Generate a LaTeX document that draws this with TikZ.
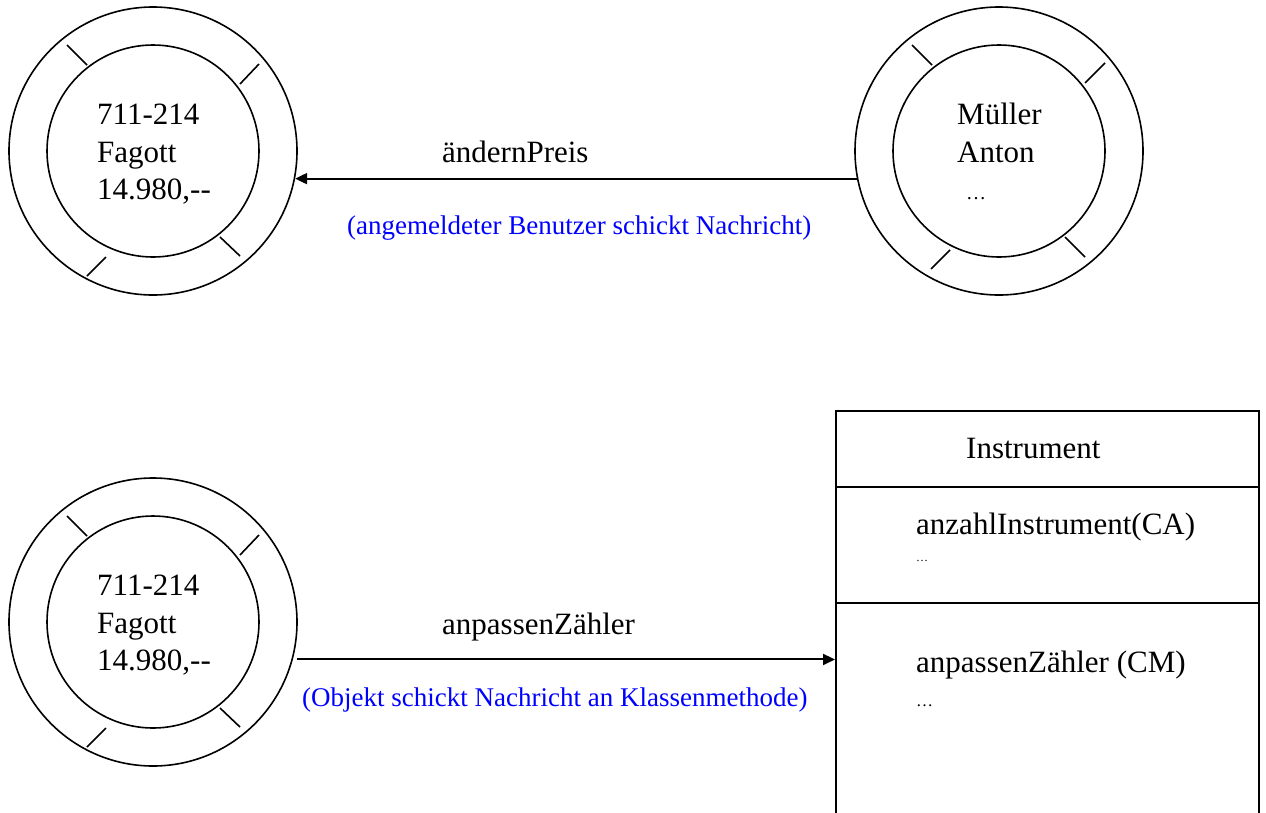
\documentclass[tikz,border=0pt]{standalone}
\usepackage{fontspec}
\setmainfont{Liberation Serif}
\usetikzlibrary{arrows.meta,calc}
\begin{document}
\begin{tikzpicture}[x=1pt,y=-1pt,
  ring/.style={circle,draw,line width=1.6pt,inner sep=0pt},
  outerring/.style={ring,minimum size=288pt},
  innerring/.style={ring,minimum size=212pt},
  tick/.style={line width=1.6pt},
  body/.style={font=\fontsize{31}{37.5}\selectfont,inner sep=0pt,align=left,anchor=north west},
  txt/.style={font=\fontsize{31}{37.5}\selectfont,inner sep=0pt,anchor=base west},
  note/.style={font=\fontsize{27}{32}\selectfont,text=blue,inner sep=0pt,anchor=base west},
  msg/.style={line width=2pt,-{Triangle[length=12pt,width=11pt]}},
]
\useasboundingbox (0,0) rectangle (1266,812);
\clip (0,0) rectangle (1266,812);

% object: Fagott (top)
\node[outerring] (o1) at (153,151) {};
\node[innerring] (i1) at (153,151) {};
\draw[tick] ($(o1)+(-86,-106)$) -- ($(o1)+(-66,-86)$);
\draw[tick] ($(o1)+(106,-87)$) -- ($(o1)+(87,-67)$);
\draw[tick] ($(o1)+(67,86)$) -- ($(o1)+(87,105)$);
\draw[tick] ($(o1)+(-66,125)$) -- ($(o1)+(-47,106)$);
\node[body] (t1) at (97,104) {711-214\\Fagott\\14.980,-{}-};

% object: Mueller
\node[outerring] (o2) at (999,151) {};
\node[innerring] (i2) at (999,151) {};
\draw[tick] ($(o2)+(-87,-106)$) -- ($(o2)+(-67,-86)$);
\draw[tick] ($(o2)+(106,-88)$) -- ($(o2)+(86,-68)$);
\draw[tick] ($(o2)+(66,86)$) -- ($(o2)+(86,106)$);
\draw[tick] ($(o2)+(-49,99)$) -- ($(o2)+(-68,118)$);
\node[body] (t2) at (957,103) {Müller\\Anton\\{\fontsize{20}{37.5}\selectfont\hspace{9pt}…}};

% message from user to object
\draw[msg] (o2.191.6) -- (o1.-11.6);
\node[txt] (m1) at (442,162) {ändernPreis};
\node[note] (n1) at (347,234) {(angemeldeter Benutzer schickt Nachricht)};

% object: Fagott (bottom)
\node[outerring] (o3) at (153,622) {};
\node[innerring] (i3) at (153,622) {};
\draw[tick] ($(o3)+(-86,-106)$) -- ($(o3)+(-66,-86)$);
\draw[tick] ($(o3)+(106,-87)$) -- ($(o3)+(87,-67)$);
\draw[tick] ($(o3)+(67,86)$) -- ($(o3)+(87,105)$);
\draw[tick] ($(o3)+(-66,125)$) -- ($(o3)+(-47,106)$);
\node[body] (t3) at (97,575) {711-214\\Fagott\\14.980,-{}-};

% class Instrument
\node[draw,line width=1.6pt,minimum width=423pt,minimum height=440pt,inner sep=0pt,anchor=north west] (cls) at (835,410) {};
\draw[tick] (835,487) -- (1258,487);
\draw[tick] (835,603) -- (1258,603);
\node[txt] (cname) at (966,458) {Instrument};
\node[txt] (cattr) at (916,534) {anzahlInstrument(CA)};
\node[txt,font=\fontsize{12}{14}\selectfont] (cattrx) at (916,561) {…};
\node[txt] (cmeth) at (916,672) {anpassenZähler (CM)};
\node[txt,font=\fontsize{17}{20}\selectfont] (cmethx) at (916,706) {…};

% message from object to class method
\draw[msg] ($(o3.-15.3)+(4,0)$) -- (o3.-15.3 -| cls.west);
\node[txt] (m2) at (442,634) {anpassenZähler};
\node[note] (n2) at (302,706) {(Objekt schickt Nachricht an Klassenmethode)};
\end{tikzpicture}
\end{document}
